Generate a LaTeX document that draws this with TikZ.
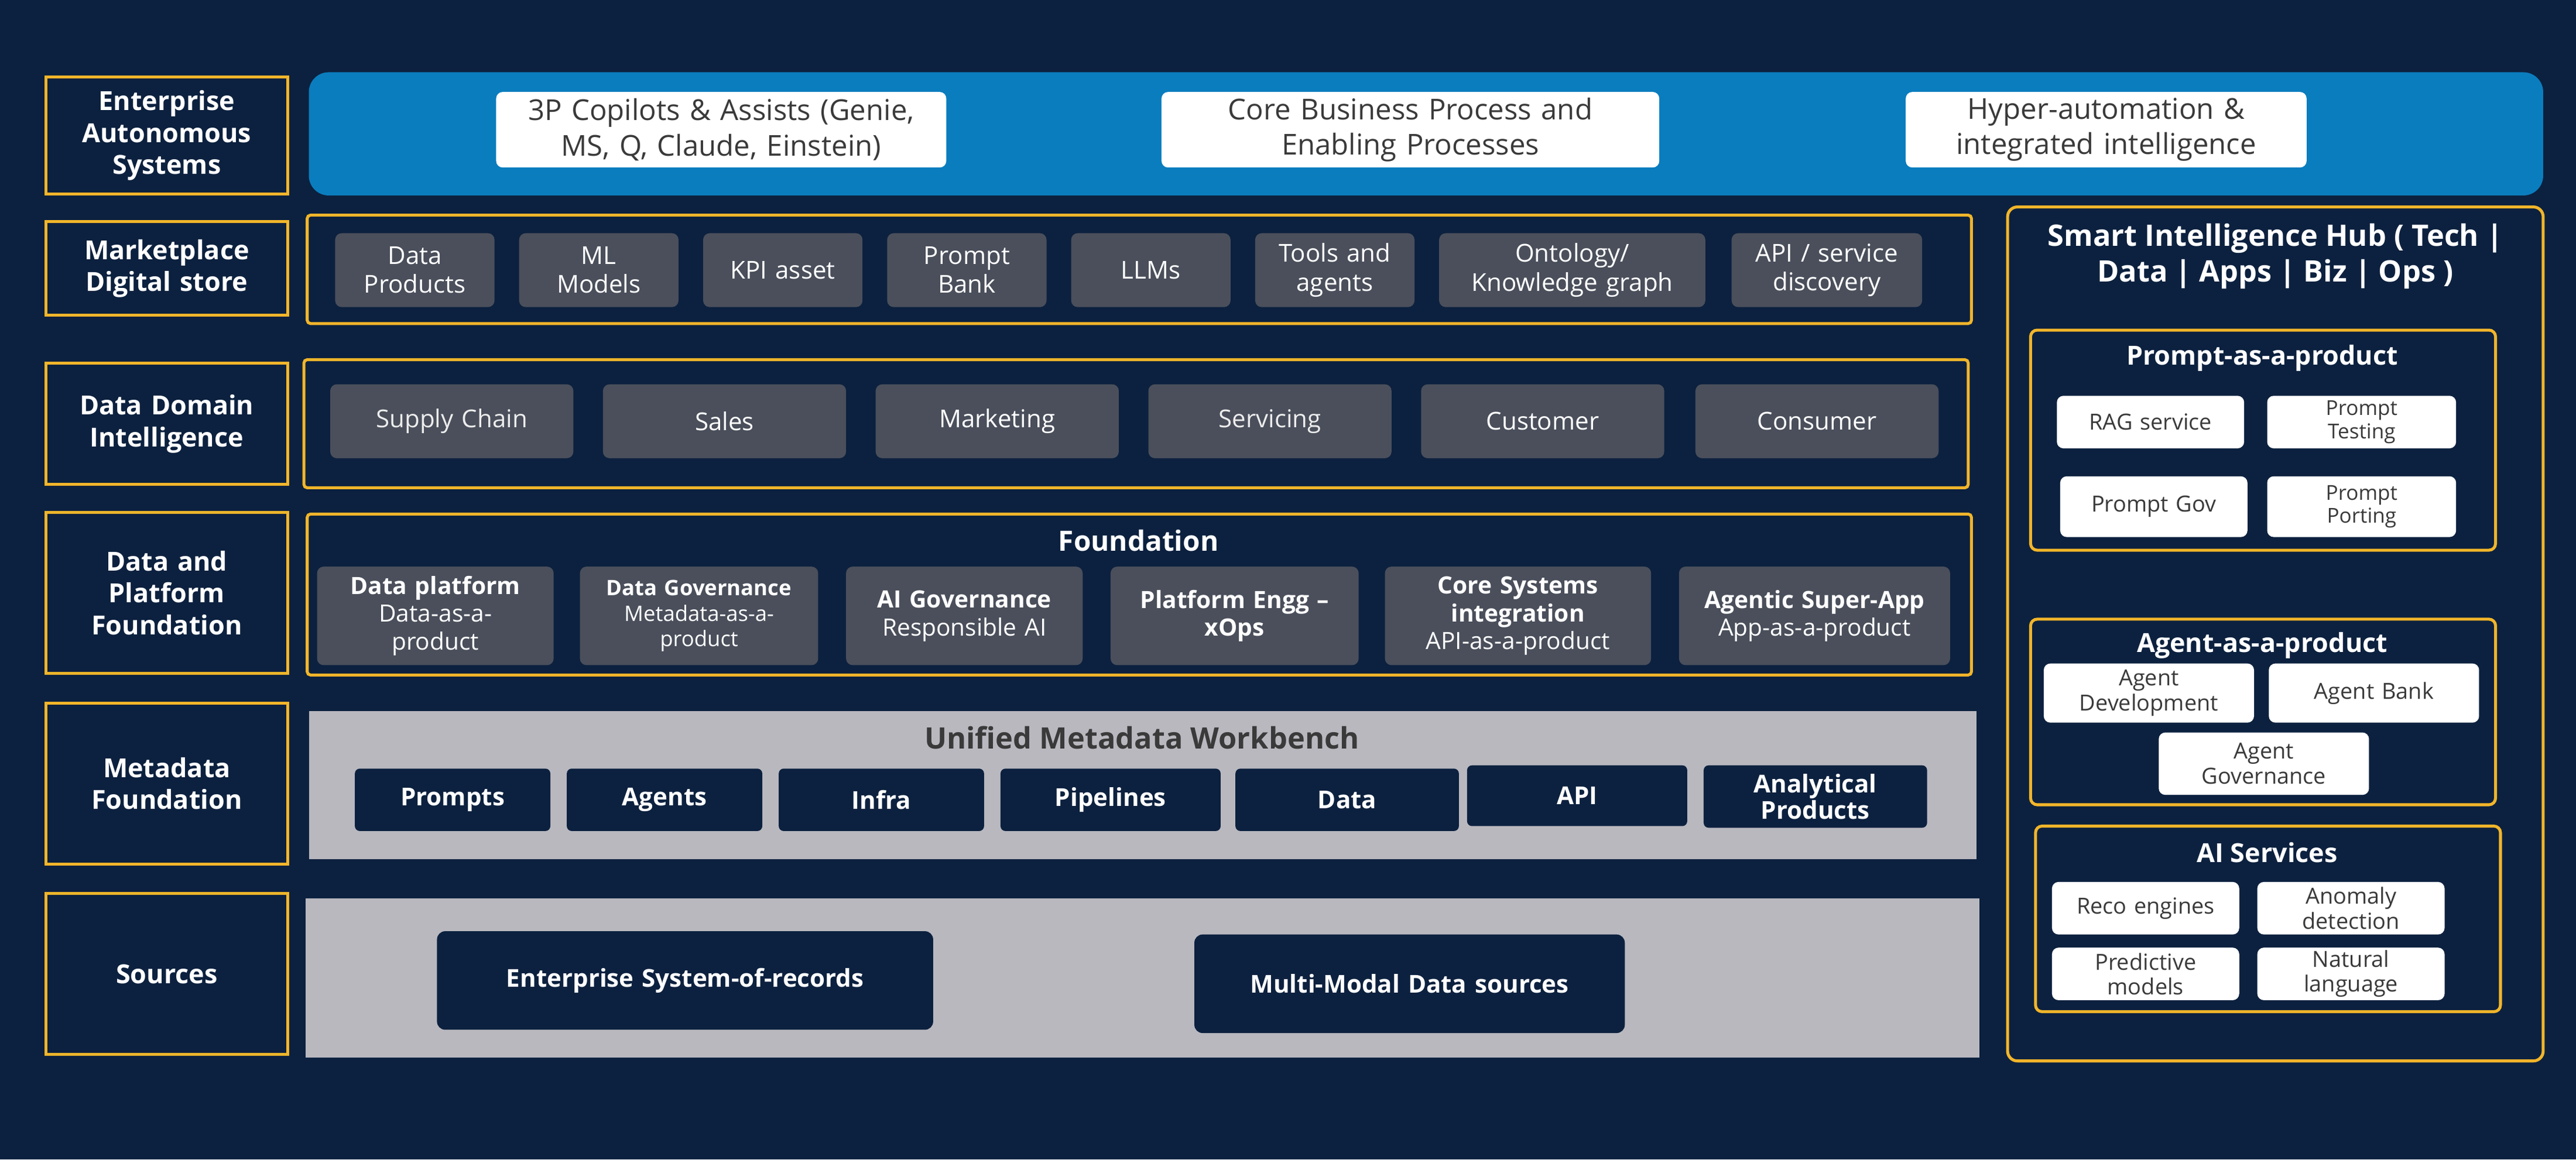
\documentclass[tikz,border=0pt]{standalone}
\usepackage{fontspec}
\setmainfont{Open Sans}
\definecolor{bg}{HTML}{0C213F}
\definecolor{yel}{HTML}{F2B52A}
\definecolor{band}{HTML}{0A7DBE}
\definecolor{gbox}{HTML}{4A4F5B}
\definecolor{lgray}{HTML}{B9B8BF}
\definecolor{dtext}{HTML}{3A3A3A}
\newcommand\mybox[7]{%
\pgfmathsetmacro\bw{#5-#3}\pgfmathsetmacro\bh{#6-#4}%
\pgfmathsetmacro\tw{#5-#3-6}%
\pgfmathsetmacro\cx{(#3+#5)/2}\pgfmathsetmacro\cy{(#4+#6)/2}%
\node[#2, minimum width=\bw pt, minimum height=\bh pt, text width=\tw pt] (#1) at (\cx,\cy) {#7};}
\begin{document}
\begin{tikzpicture}[x=1pt,y=-1pt,
 every node/.style={inner sep=0pt,outer sep=0pt,align=center},
 lab/.style={draw=yel,line width=1.8pt,fill=bg,text=white,font=\fontsize{16}{19.5}\selectfont\bfseries},
 frame/.style={draw=yel,line width=1.8pt,fill=bg},
 wbox/.style={fill=white,rounded corners=4pt,text=dtext,font=\fontsize{17.5}{21.5}\selectfont},
 gb/.style={fill=gbox,rounded corners=4pt,text=white,font=\fontsize{15}{17.5}\selectfont},
 gbb/.style={fill=gbox,rounded corners=4pt,text=white,font=\fontsize{14.5}{17}\selectfont},
 nb/.style={fill=bg,rounded corners=3pt,text=white,font=\fontsize{15}{16}\selectfont\bfseries},
 sw/.style={fill=white,rounded corners=4pt,text=dtext,font=\fontsize{12.5}{14}\selectfont},
 ttl/.style={text=white,font=\fontsize{16}{19}\selectfont\bfseries}]
\useasboundingbox[fill=bg] (0,0) rectangle (1568,706);
% left labels
\mybox{l1}{lab}{28}{47}{175}{118}{Enterprise\\Autonomous\\Systems}
\mybox{l2}{lab}{28}{135}{175}{192}{Marketplace\\Digital store}
\mybox{l3}{lab}{28}{221}{175}{295}{Data Domain\\Intelligence}
\mybox{l4}{lab}{28}{312}{175}{410}{Data and\\Platform\\Foundation}
\mybox{l5}{lab}{28}{428}{175}{526}{Metadata\\Foundation}
\mybox{l6}{lab}{28}{544}{175}{642}{Sources}
% top band
\mybox{band}{fill=band,rounded corners=12pt}{188}{44}{1548}{119}{}
\mybox{t1}{wbox}{302}{56}{576}{102}{3P Copilots \& Assists (Genie,\\MS, Q, Claude, Einstein)}
\mybox{t2}{wbox}{707}{56}{1010}{102}{Core Business Process and\\Enabling Processes}
\mybox{t3}{wbox}{1160}{56}{1404}{102}{Hyper-automation \&\\integrated intelligence}
% marketplace
\mybox{mf}{frame,rounded corners=2pt}{187}{131}{1200}{197}{}
\mybox{m1}{gb}{204}{142}{301}{187}{Data\\Products}
\mybox{m2}{gb}{316}{142}{413}{187}{ML\\Models}
\mybox{m3}{gb}{428}{142}{525}{187}{KPI asset}
\mybox{m4}{gb}{540}{142}{637}{187}{Prompt\\Bank}
\mybox{m5}{gb}{652}{142}{749}{187}{LLMs}
\mybox{m6}{gb}{764}{142}{861}{187}{Tools and\\agents}
\mybox{m7}{gb}{876}{142}{1038}{187}{Ontology/\\Knowledge graph}
\mybox{m8}{gb}{1054}{142}{1170}{187}{API / service\\discovery}
% data domain
\mybox{df}{frame,rounded corners=2pt}{185}{219}{1198}{297}{}
\mybox{d1}{gb,text=white!85!gray}{201}{234}{349}{279}{Supply Chain}
\mybox{d2}{gb}{367}{234}{515}{279}{Sales}
\mybox{d3}{gb}{533}{234}{681}{279}{Marketing}
\mybox{d4}{gb,text=white!85!gray}{699}{234}{847}{279}{Servicing}
\mybox{d5}{gb}{865}{234}{1013}{279}{Customer}
\mybox{d6}{gb}{1032}{234}{1180}{279}{Consumer}
% foundation
\mybox{ff}{frame,rounded corners=2pt}{187}{313}{1200}{411}{}
\node[ttl,font=\fontsize{17}{20}\selectfont\bfseries] (ft) at (693,329) {Foundation};
\mybox{f1}{gbb}{193}{345}{337}{405}{\textbf{Data platform}\\Data-as-a-\\product}
\mybox{f2}{gbb,font=\fontsize{13}{15.5}\selectfont}{353}{345}{498}{405}{\textbf{Data Governance}\\Metadata-as-a-\\product}
\mybox{f3}{gbb}{515}{345}{659}{405}{\textbf{AI Governance}\\Responsible AI}
\mybox{f4}{gbb}{676}{345}{827}{405}{\textbf{Platform Engg –}\\\textbf{xOps}}
\mybox{f5}{gbb}{843}{345}{1005}{405}{\textbf{Core Systems}\\\textbf{integration}\\API-as-a-product}
\mybox{f6}{gbb}{1022}{345}{1187}{405}{\textbf{Agentic Super-App}\\App-as-a-product}
% metadata
\mybox{mdf}{fill=lgray}{188}{433}{1203}{523}{}
\node[text=dtext,font=\fontsize{18}{21}\selectfont\bfseries] (mdt) at (695,449) {Unified Metadata Workbench};
\mybox{n1}{nb}{216}{468}{335}{506}{Prompts}
\mybox{n2}{nb}{345}{468}{464}{506}{Agents}
\mybox{n3}{nb}{474}{468}{599}{506}{Infra}
\mybox{n4}{nb}{609}{468}{743}{506}{Pipelines}
\mybox{n5}{nb}{752}{468}{888}{506}{Data}
\mybox{n6}{nb}{893}{466}{1027}{503}{API}
\mybox{n7}{nb}{1037}{466}{1173}{504}{Analytical\\Products}
% sources
\mybox{sf}{fill=lgray}{186}{547}{1205}{644}{}
\mybox{s1}{nb,rounded corners=5pt}{266}{567}{568}{627}{Enterprise System-of-records}
\mybox{s2}{nb,rounded corners=5pt}{727}{569}{989}{629}{Multi-Modal Data sources}
% hub
\mybox{hub}{frame,rounded corners=6pt}{1222}{126}{1548}{646}{}
\node[ttl,font=\fontsize{18}{22}\selectfont\bfseries] (ht) at (1385,156) {Smart Intelligence Hub ( Tech |\\Data | Apps | Biz | Ops )};
\mybox{p}{frame,rounded corners=4pt}{1236}{201}{1519}{335}{}
\node[ttl] (pt) at (1377,218) {Prompt-as-a-product};
\mybox{p1}{sw,font=\fontsize{13.5}{15}\selectfont}{1252}{241}{1366}{273}{RAG service}
\mybox{p2}{sw}{1380}{241}{1495}{273}{Prompt\\Testing}
\mybox{p3}{sw,font=\fontsize{13.5}{15}\selectfont}{1254}{290}{1368}{327}{Prompt Gov}
\mybox{p4}{sw}{1380}{290}{1495}{327}{Prompt\\Porting}
\mybox{a}{frame,rounded corners=4pt}{1236}{377}{1519}{490}{}
\node[ttl] (at) at (1377,393) {Agent-as-a-product};
\mybox{a1}{sw,font=\fontsize{13.5}{15.5}\selectfont}{1244}{404}{1372}{440}{Agent\\Development}
\mybox{a2}{sw,font=\fontsize{13.5}{15}\selectfont}{1381}{404}{1509}{440}{Agent Bank}
\mybox{a3}{sw,font=\fontsize{13.5}{15.5}\selectfont}{1314}{446}{1442}{484}{Agent\\Governance}
\mybox{s}{frame,rounded corners=4pt}{1239}{503}{1522}{616}{}
\node[ttl] (st) at (1380,519) {AI Services};
\mybox{q1}{sw,font=\fontsize{13.5}{15}\selectfont}{1249}{537}{1363}{569}{Reco engines}
\mybox{q2}{sw,font=\fontsize{13.5}{15}\selectfont}{1374}{537}{1488}{569}{Anomaly\\detection}
\mybox{q3}{sw,font=\fontsize{13.5}{15}\selectfont}{1249}{577}{1363}{609}{Predictive\\models}
\mybox{q4}{sw,font=\fontsize{13.5}{15}\selectfont}{1374}{577}{1488}{609}{Natural\\language}
\end{tikzpicture}
\end{document}
